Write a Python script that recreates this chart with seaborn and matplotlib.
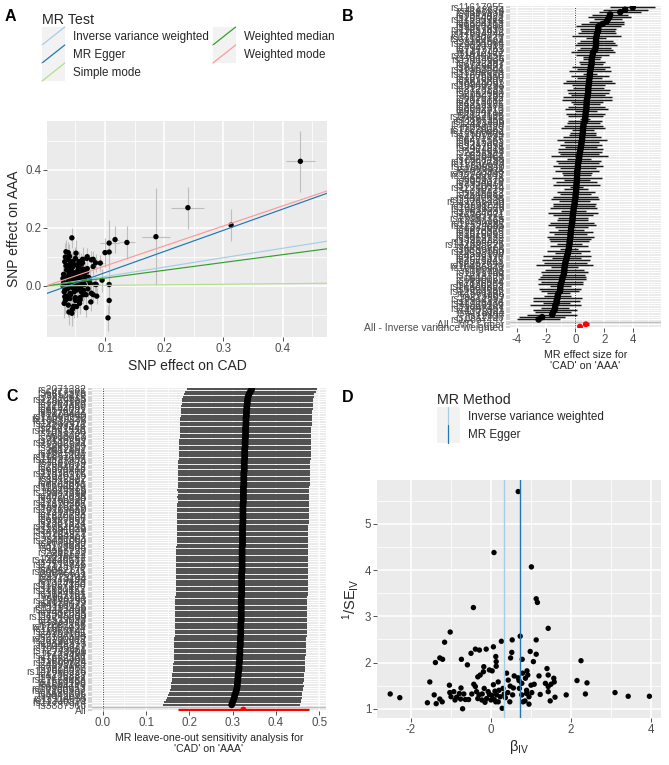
import numpy as np
import pandas as pd
import matplotlib
matplotlib.use("Agg")
import matplotlib.pyplot as plt
import seaborn as sns
from matplotlib.ticker import FixedLocator
from matplotlib.legend_handler import HandlerBase
from matplotlib.patches import Rectangle
from matplotlib.lines import Line2D

# ---------------- data ----------------
snp_ids = [
"rs3887966","rs12740374","rs11206510","rs17114036","rs4845625","rs6689306","rs67180937","rs16986953","rs6544713","rs1561198",
"rs7568458","rs17678683","rs6725887","rs1250229","rs142695226","rs9818870","rs7623687","rs4593108","rs12500824","rs1878406",
"rs7692387","rs11723436","rs273909","rs72743461","rs10455872","rs2048327","rs9349379","rs12202017","rs55730499","rs2107595",
"rs4252185","rs10953541","rs11556924","rs17087335","rs2891168","rs1333049","rs2519093","rs111245230","rs2505083","rs2487928",
"rs12413409","rs11191416","rs4918072","rs2128739","rs10840293","rs964184","rs7947761","rs3184504","rs11830157","rs2681472",
"rs11057830","rs1324183","rs9319428","rs4773144","rs9515203","rs2895811","rs56062135","rs8042271","rs7173743","rs17514846",
"rs4468572","rs12936587","rs216172","rs46522","rs2281727","rs663129","rs1122608","rs8108632","rs2075650","rs28451064",
"rs180803","rs17464857","rs6705971","rs12691049","rs2954029","rs11752643","rs2351524","rs9337951","rs6903956","rs1870634",
"rs7212798","rs2252641","rs10139550","rs3918226","rs1870365","rs12190287","rs3798220","rs4420638","rs2023938","rs10947789",
"rs974819","rs11226029","rs6602910","rs8723881","rs3825807","rs1412422","rs2820315","rs11838776","rs9970807","rs6504218",
"rs2954022","rs7697839","rs4148674","rs11617955","rs10857147","rs1231206","rs4801801","rs12897","rs3869109","rs2306374",
"rs10512597","rs7136259","rs6900057","rs13723","rs1051730","rs16893526","rs2571445","rs4299376","rs12537421","rs10818576",
"rs13097226","rs17609940","rs1878404","rs8176722","rs6544091","rs2252660","rs1264359","rs3869132","rs12524865","rs7310615",
"rs653178","rs6477565","rs2071382"]

# Wald ratio estimates (beta_IV) and precision (1/SE_IV) per SNP  (panels B and D)
iv_b = [
0.68, 0.075, 1.01, 1.13, 1.16, -0.44, 1.43, -1.02, 0.73, -1.16,
0.26, 0.53, 1.13, 0.06, -0.39, -0.29, -0.12, -0.50, 0.52, 0.98,
1.13, -1.28, -1.21, -1.39, -0.74, -0.59, 0.12, 0.13, 0.13, 0.49,
0.78, 1.06, 2.25, -0.18, -0.19, -0.27, -0.33, -0.04, 0.03, 0.39,
0.58, 0.68, 0.79, 0.90, 0.92, 0.86, 1.40, 1.43, 1.20, 1.57,
1.58, 2.15, 2.40, -1.53, 0.43, 0.18, 0.70, 0.77, 1.36, 1.50,
-0.43, -1.04, 0.06, 0.30, 0.48, 0.56, 0.71, 1.08, 1.00, 1.43,
-0.75, -0.39, -0.17, -0.07, 0.10, 0.20, 0.33, 0.42, -1.03, -0.93,
-0.79, -0.68, -0.48, -0.36, -0.30, -0.22, -0.04, 0.02, 0.14, 0.23,
0.36, 0.54, 0.77, 0.89, 0.95, 1.23, 1.43, 1.48, 1.60, 1.88,
2.36, 3.10, 3.43, 3.96, -2.52, -2.28, -1.42, -1.59, -1.37, -1.28,
-1.22, -1.00, -0.90, -0.86, -0.76, -0.71, -0.64, -0.56, -0.15, -0.11,
0.00, 0.18, 0.28, 0.85, 0.95, 0.89, 1.02, -0.33, -0.23, 0.08,
0.12, 0.47, 0.80]
iv_inv_se = [
5.70, 4.38, 4.07, 3.38, 3.30, 3.19, 2.74, 2.66, 2.57, 2.44,
2.46, 2.49, 2.49, 2.34, 2.29, 2.27, 2.29, 2.20, 2.22, 2.24,
2.18, 2.10, 2.07, 2.00, 2.07, 1.95, 2.13, 2.02, 1.92, 2.10,
2.07, 2.02, 2.04, 1.91, 1.80, 1.73, 1.69, 1.84, 1.82, 1.77,
1.71, 1.67, 1.77, 1.82, 1.73, 1.66, 1.87, 1.73, 1.71, 1.66,
1.58, 1.61, 1.56, 1.58, 1.62, 1.58, 1.61, 1.55, 1.55, 1.53,
1.53, 1.51, 1.52, 1.44, 1.49, 1.45, 1.44, 1.53, 1.51, 1.48,
1.45, 1.48, 1.44, 1.37, 1.38, 1.40, 1.32, 1.35, 1.35, 1.37,
1.33, 1.32, 1.32, 1.37, 1.30, 1.32, 1.31, 1.29, 1.30, 1.26,
1.24, 1.30, 1.30, 1.33, 1.26, 1.31, 1.37, 1.17, 1.25, 1.30,
1.32, 1.35, 1.27, 1.27, 1.32, 1.24, 1.30, 1.13, 1.11, 1.21,
1.15, 1.26, 1.19, 1.25, 1.21, 1.00, 1.20, 1.20, 1.14, 1.22,
1.19, 1.15, 1.01, 1.17, 1.10, 1.40, 1.35, 1.22, 1.19, 1.20,
1.15, 1.15, 1.15]

# Panel A: SNP effects on exposure (CAD) and outcome (AAA)
bx_out = [0.430, 0.240, 0.313, 0.186, 0.137, 0.117, 0.107, 0.107, 0.100, 0.095, 0.107, 0.107, 0.105]
by_out = [0.430, 0.270, 0.210, 0.170, 0.150, 0.160, 0.148, 0.117, 0.115, 0.020, 0.005, -0.050, -0.110]
bx_se_out = [0.025, 0.028, 0.004, 0.024, 0.013, 0.006, 0.016, 0.005, 0.004, 0.004, 0.004, 0.004, 0.004]
by_se_out = [0.105, 0.072, 0.055, 0.168, 0.058, 0.047, 0.080, 0.060, 0.050, 0.040, 0.048, 0.045, 0.045]
bx_clu = [
0.044,0.034,0.038,0.051,0.070,0.062,0.056,0.038,0.042,0.080,
0.092,0.084,0.052,0.046,0.060,0.069,0.077,0.032,0.046,0.063,
0.080,0.055,0.035,0.069,0.046,0.029,0.040,0.057,0.063,0.075,
0.083,0.029,0.037,0.052,0.060,0.077,0.032,0.041,0.058,0.068,
0.038,0.052,0.044,0.036,0.048,0.054,0.065,0.072,0.030,0.043,
0.049,0.059,0.066,0.034,0.039,0.047,0.053,0.061,0.071,0.031,
0.036,0.042,0.050,0.056,0.064,0.074,0.033,0.045,0.051,0.057,
0.067,0.085,0.080,0.086,0.030,0.035,0.040,0.048,0.055,0.062,
0.039,0.044,0.050,0.058,0.065,0.031,0.037,0.043,0.047,0.054,
0.060,0.070,0.076,0.033,0.041,0.046,0.053,0.059,0.072,0.035,
0.038,0.042,0.049,0.056,0.063,0.068,0.032,0.045,0.052,0.061,
0.040,0.047,0.036,0.043,0.050,0.057,0.034,0.039,0.044,0.048]
by_clu = [
0.166,0.118,0.115,0.113,0.101,0.092,0.084,0.090,0.084,0.092,
0.079,0.080,0.072,0.084,0.075,0.095,0.090,0.084,0.038,0.015,
0.067,0.061,0.055,0.049,0.030,0.026,0.021,0.026,0.058,0.009,
0.006,0.000,-0.008,-0.014,-0.020,-0.025,-0.037,-0.043,-0.048,-0.030,
-0.066,-0.071,-0.094,0.010,0.045,0.035,0.040,0.020,0.012,0.060,
0.005,-0.005,0.030,0.070,0.040,0.020,0.050,0.010,-0.010,-0.020,
0.030,-0.030,-0.040,0.000,-0.015,0.025,-0.050,0.065,0.015,-0.060,
0.050,0.005,-0.030,-0.035,0.040,-0.010,0.050,-0.020,0.035,0.080,
0.010,-0.005,0.095,-0.040,0.005,-0.060,0.025,0.045,-0.070,0.000,
0.020,0.060,-0.055,0.100,-0.025,0.012,-0.010,0.040,0.030,-0.045,
0.070,0.015,0.025,0.060,-0.030,-0.075,-0.015,-0.080,0.008,0.055,
0.102,0.045,-0.035,0.030,-0.050,0.018,0.000,-0.090,0.075,-0.005]
by_se_clu = [
0.035,0.040,0.038,0.045,0.030,0.042,0.036,0.048,0.033,0.028,
0.027,0.031,0.039,0.044,0.037,0.034,0.030,0.046,0.041,0.035,
0.029,0.043,0.050,0.033,0.038,0.047,0.045,0.036,0.032,0.031,
0.028,0.049,0.044,0.039,0.035,0.030,0.046,0.042,0.037,0.034,
0.040,0.036,0.045,0.048,0.041,0.038,0.034,0.032,0.052,0.043,
0.039,0.035,0.033,0.047,0.044,0.040,0.037,0.034,0.031,0.050,
0.046,0.042,0.039,0.036,0.033,0.030,0.048,0.041,0.038,0.035,
0.032,0.027,0.029,0.028,0.051,0.046,0.043,0.039,0.036,0.034,
0.044,0.041,0.038,0.035,0.032,0.050,0.045,0.042,0.040,0.037,
0.034,0.031,0.030,0.048,0.043,0.040,0.037,0.034,0.031,0.047,
0.045,0.042,0.039,0.036,0.033,0.032,0.049,0.041,0.038,0.035,
0.043,0.040,0.046,0.042,0.039,0.036,0.048,0.044,0.041,0.039]
bx_se_clu = [
0.004,0.003,0.003,0.005,0.006,0.005,0.004,0.003,0.004,0.006,
0.007,0.006,0.004,0.004,0.005,0.005,0.006,0.003,0.004,0.005,
0.006,0.004,0.003,0.005,0.004,0.002,0.003,0.004,0.005,0.006,
0.006,0.002,0.003,0.004,0.005,0.006,0.003,0.003,0.004,0.005,
0.003,0.004,0.003,0.003,0.004,0.004,0.005,0.005,0.002,0.003,
0.004,0.004,0.005,0.003,0.003,0.004,0.004,0.005,0.005,0.002,
0.003,0.003,0.004,0.004,0.005,0.005,0.003,0.003,0.004,0.004,
0.005,0.006,0.006,0.006,0.002,0.003,0.003,0.004,0.004,0.005,
0.003,0.003,0.004,0.004,0.005,0.002,0.003,0.003,0.004,0.004,
0.005,0.005,0.006,0.003,0.003,0.004,0.004,0.004,0.005,0.003,
0.003,0.003,0.004,0.004,0.005,0.005,0.002,0.003,0.004,0.005,
0.003,0.004,0.003,0.003,0.004,0.004,0.003,0.003,0.003,0.004]

# MR method estimates (panel A lines, panel D vertical lines)
methods = ["Inverse variance weighted", "MR Egger", "Simple mode", "Weighted median", "Weighted mode"]
method_slope = [0.325, 0.73, 0.02, 0.27, 0.69]
method_intercept = [0.0, -0.027, 0.0, 0.0, 0.0]
method_colors = ["#A6CEE3", "#1F78B4", "#B2DF8A", "#33A02C", "#FB9A99"]

# Forest plot summary rows (panel B)
all_labels = ["All - Inverse variance weighted", "All - MR Egger"]
all_b = [0.325, 0.73]
all_se = [0.077, 0.10]

# Leave-one-out (panel C), listed top row to bottom row
loo_b = [
0.344,0.341,0.338,0.336,0.335,0.334,0.334,0.333,0.333,0.332,
0.332,0.332,0.331,0.331,0.331,0.331,0.330,0.330,0.330,0.330,
0.330,0.329,0.329,0.329,0.329,0.328,0.328,0.328,0.328,0.328,
0.327,0.327,0.327,0.327,0.327,0.326,0.326,0.326,0.326,0.326,
0.326,0.325,0.325,0.325,0.325,0.325,0.325,0.325,0.324,0.324,
0.324,0.324,0.324,0.324,0.324,0.324,0.324,0.323,0.323,0.323,
0.323,0.323,0.323,0.323,0.323,0.323,0.322,0.322,0.322,0.322,
0.322,0.322,0.322,0.322,0.322,0.322,0.322,0.321,0.321,0.321,
0.321,0.321,0.321,0.321,0.321,0.321,0.321,0.320,0.320,0.320,
0.320,0.320,0.320,0.320,0.320,0.320,0.320,0.320,0.319,0.319,
0.319,0.319,0.319,0.319,0.318,0.318,0.318,0.318,0.317,0.317,
0.317,0.317,0.316,0.316,0.316,0.315,0.315,0.315,0.314,0.313,
0.313,0.312,0.312,0.311,0.311,0.310,0.309,0.307,0.305,0.304,
0.302,0.300,0.298]
loo_se = [
0.0767,0.0770,0.0772,0.0774,0.0773,0.0775,0.0774,0.0776,0.0775,0.0776,
0.0776,0.0777,0.0776,0.0777,0.0776,0.0777,0.0777,0.0776,0.0777,0.0777,
0.0777,0.0777,0.0776,0.0777,0.0777,0.0777,0.0778,0.0777,0.0777,0.0777,
0.0777,0.0778,0.0777,0.0777,0.0777,0.0778,0.0777,0.0777,0.0778,0.0777,
0.0777,0.0777,0.0778,0.0777,0.0777,0.0778,0.0777,0.0777,0.0777,0.0778,
0.0777,0.0777,0.0778,0.0777,0.0777,0.0777,0.0778,0.0777,0.0777,0.0778,
0.0777,0.0777,0.0777,0.0778,0.0777,0.0777,0.0778,0.0777,0.0777,0.0777,
0.0778,0.0777,0.0777,0.0778,0.0777,0.0777,0.0777,0.0778,0.0777,0.0777,
0.0778,0.0777,0.0777,0.0777,0.0778,0.0777,0.0777,0.0778,0.0777,0.0777,
0.0777,0.0778,0.0777,0.0777,0.0778,0.0777,0.0777,0.0777,0.0778,0.0777,
0.0777,0.0778,0.0777,0.0777,0.0777,0.0778,0.0777,0.0778,0.0777,0.0778,
0.0777,0.0778,0.0778,0.0777,0.0778,0.0778,0.0777,0.0778,0.0778,0.0778,
0.0778,0.0779,0.0779,0.0780,0.0781,0.0782,0.0784,0.0787,0.0790,0.0795,
0.0800,0.0806,0.0811]
loo_all_b = 0.325
loo_all_se = 0.077

# ---------------- style ----------------
sns.set_theme(style="darkgrid")
plt.rcParams["font.family"] = ["Liberation Sans", "DejaVu Sans"]
plt.rcParams["axes.unicode_minus"] = False
plt.rcParams["mathtext.fontset"] = "custom"
plt.rcParams["mathtext.rm"] = "Liberation Sans"
plt.rcParams["mathtext.it"] = "Liberation Sans:italic"
plt.rcParams["mathtext.bf"] = "Liberation Sans:bold"

W, H = 669, 765
fig = plt.figure(figsize=(W / 100, H / 100), dpi=100)
fig.patch.set_facecolor("white")


def rect(x0, y0, x1, y1):
    return [x0 / W, 1 - y1 / H, (x1 - x0) / W, (y1 - y0) / H]


BG = "#EBEBEB"
TICKC = "#4D4D4D"


def gg(ax, ysize=8.3):
    ax.set_facecolor(BG)
    for s in ax.spines.values():
        s.set_visible(False)
    ax.set_axisbelow(True)
    ax.grid(True, which="major", color="white", lw=1.1)
    ax.grid(True, which="minor", color="white", lw=0.55)
    ax.tick_params(axis="both", which="major", length=2.6, width=0.6, color="#333333",
                   labelcolor=TICKC, labelsize=8.3, pad=1.5,
                   bottom=True, left=True)
    ax.tick_params(axis="y", labelsize=ysize)
    ax.tick_params(which="minor", length=0, bottom=True, left=True)


class HandlerKey(HandlerBase):
    def __init__(self, kind):
        super().__init__()
        self.kind = kind

    def create_artists(self, legend, orig_handle, xdescent, ydescent, width, height, fontsize, trans):
        x0, y0 = -xdescent, -ydescent
        bg = Rectangle((x0, y0), width, height, facecolor="#F2F2F2", edgecolor="none", transform=trans)
        if self.kind == "diag":
            ln = Line2D([x0, x0 + width], [y0, y0 + height], color=orig_handle.get_color(), lw=0.9, transform=trans)
        else:
            ln = Line2D([x0 + width / 2] * 2, [y0, y0 + height], color=orig_handle.get_color(), lw=0.9, transform=trans)
        return [bg, ln]


# ---------------- Panel A ----------------
axA = fig.add_axes(rect(47, 121, 327, 337))
gg(axA)
dfA = pd.DataFrame({
    "bx": bx_out + bx_clu, "by": by_out + by_clu,
    "bx_se": bx_se_out + bx_se_clu, "by_se": by_se_out + by_se_clu,
})
axA.errorbar(dfA["bx"], dfA["by"], xerr=dfA["bx_se"], yerr=dfA["by_se"], fmt="none",
             ecolor="#BEBEBE", elinewidth=0.8, capsize=0, zorder=2)
sns.scatterplot(data=dfA, x="bx", y="by", color="black", s=15, edgecolor="none", ax=axA, zorder=3)
for m, s_, i_, c in zip(methods, method_slope, method_intercept, method_colors):
    axA.axline((0, i_), slope=s_, color=c, lw=0.85, zorder=4)
axA.set_xlim(0.002, 0.475)
axA.set_ylim(-0.176, 0.569)
axA.xaxis.set_major_locator(FixedLocator([0.1, 0.2, 0.3, 0.4]))
axA.xaxis.set_minor_locator(FixedLocator([0.05, 0.15, 0.25, 0.35, 0.45]))
axA.yaxis.set_major_locator(FixedLocator([0.0, 0.2, 0.4]))
axA.yaxis.set_minor_locator(FixedLocator([-0.1, 0.1, 0.3, 0.5]))
axA.set_xticklabels(["0.1", "0.2", "0.3", "0.4"])
axA.set_yticklabels(["0.0", "0.2", "0.4"])
axA.set_xlabel("SNP effect on CAD", fontsize=10, labelpad=3)
axA.set_ylabel("SNP effect on AAA", fontsize=10, labelpad=3)

handlesA = [Line2D([], [], color=c) for c in method_colors]
fig.legend(handlesA, methods, loc="upper left", bbox_to_anchor=(42 / W, 1 - 13 / H),
           ncol=2, frameon=False, fontsize=8.4, title="MR Test", title_fontsize=10.3,
           handlelength=1.95, handleheight=2.0, labelspacing=0, handletextpad=0.7,
           columnspacing=0.35, borderpad=0, borderaxespad=0, alignment="left",
           handler_map={Line2D: HandlerKey("diag")})

# ---------------- Panel B ----------------
axB = fig.add_axes(rect(510, 6, 661, 328))
gg(axB, ysize=7.4)
dfB = pd.DataFrame({"SNP": snp_ids, "b": iv_b, "se": 1.0 / np.array(iv_inv_se)})
dfB = dfB.sort_values("b").reset_index(drop=True)
dfB["pos"] = np.arange(len(dfB)) + 3
dfB["lo"] = dfB["b"] - 1.96 * dfB["se"]
dfB["hi"] = dfB["b"] + 1.96 * dfB["se"]
dfBall = pd.DataFrame({"SNP": all_labels, "b": all_b, "se": all_se, "pos": [0, 1]})
dfBall["lo"] = dfBall["b"] - 1.96 * dfBall["se"]
dfBall["hi"] = dfBall["b"] + 1.96 * dfBall["se"]
axB.axvline(0, ls=(0, (1, 1.8)), color="black", lw=0.6, zorder=1.5)
axB.axhline(2, color="#BEBEBE", lw=0.9, zorder=1.6)
axB.hlines(dfB["pos"], dfB["lo"], dfB["hi"], color="#1a1a1a", lw=1.05, zorder=2)
sns.scatterplot(data=dfB, x="b", y="pos", color="black", s=22, edgecolor="none", ax=axB, zorder=3)
axB.hlines(dfBall["pos"], dfBall["lo"], dfBall["hi"], color="red", lw=2.4, zorder=2)
sns.scatterplot(data=dfBall, x="b", y="pos", color="red", s=18, edgecolor="none", ax=axB, zorder=3)
nB = len(dfB) + 3
axB.set_ylim(-0.6, nB - 1 + 0.6)
axB.set_xlim(-4.49, 5.9)
axB.xaxis.set_major_locator(FixedLocator([-4, -2, 0, 2, 4]))
axB.xaxis.set_minor_locator(FixedLocator([-3, -1, 1, 3, 5]))
axB.set_xticklabels(["-4", "-2", "0", "2", "4"])
axB.set_yticks(list(range(nB)))
axB.set_yticklabels(all_labels + [""] + list(dfB["SNP"]))
axB.grid(True, axis="y", which="major", color="white", lw=0.7)
axB.tick_params(axis="y", length=2.6, width=0.3)
axB.set_xlabel("MR effect size for\n'CAD' on 'AAA'", fontsize=7.7, labelpad=3, linespacing=1.1)
axB.set_ylabel("")

# ---------------- Panel C ----------------
axC = fig.add_axes(rect(92, 388, 326, 711))
gg(axC, ysize=7.4)
nL = len(loo_b)
loo_ids = snp_ids[::-1]
dfC = pd.DataFrame({"SNP": loo_ids[:nL], "b": loo_b, "se": loo_se})
dfC["pos"] = nL + 1 - np.arange(nL)
dfC["lo"] = dfC["b"] - 1.96 * dfC["se"]
dfC["hi"] = dfC["b"] + 1.96 * dfC["se"]
axC.axvline(0, ls=(0, (1, 1.8)), color="black", lw=0.6, zorder=1.5)
axC.axhline(1, color="#BEBEBE", lw=0.9, zorder=1.6)
axC.hlines(dfC["pos"], dfC["lo"], dfC["hi"], color="#3a3a3a", lw=1.25, zorder=2)
sns.scatterplot(data=dfC, x="b", y="pos", color="black", s=24, edgecolor="none", ax=axC, zorder=3)
axC.hlines([0], [loo_all_b - 1.96 * loo_all_se], [loo_all_b + 1.96 * loo_all_se], color="red", lw=2.4, zorder=2)
sns.scatterplot(x=[loo_all_b], y=[0], color="red", s=18, edgecolor="none", ax=axC, zorder=3)
axC.set_ylim(-0.6, nL + 1 + 0.6)
axC.set_xlim(-0.025, 0.516)
axC.xaxis.set_major_locator(FixedLocator([0.0, 0.1, 0.2, 0.3, 0.4, 0.5]))
axC.xaxis.set_minor_locator(FixedLocator([0.05, 0.15, 0.25, 0.35, 0.45]))
axC.set_xticklabels(["0.0", "0.1", "0.2", "0.3", "0.4", "0.5"])
yC = [0, 1] + list(dfC["pos"][::-1])
axC.set_yticks(yC)
axC.set_yticklabels(["All", ""] + list(dfC["SNP"][::-1]))
axC.grid(True, axis="y", which="major", color="white", lw=0.7)
axC.tick_params(axis="y", length=2.6, width=0.3)
axC.set_xlabel("MR leave-one-out sensitivity analysis for\n'CAD' on 'AAA'", fontsize=7.6, labelpad=3, linespacing=1.1)
axC.set_ylabel("")

# ---------------- Panel D ----------------
axD = fig.add_axes(rect(377, 480, 661, 718))
gg(axD)
dfD = pd.DataFrame({"b": iv_b, "inv_se": iv_inv_se})
sns.scatterplot(data=dfD, x="b", y="inv_se", color="black", s=15, edgecolor="none", ax=axD, zorder=3)
axD.axvline(method_slope[0], color=method_colors[0], lw=1.0, zorder=4)
axD.axvline(method_slope[1], color=method_colors[1], lw=1.0, zorder=4)
axD.set_xlim(-2.85, 4.25)
axD.set_ylim(0.8, 5.95)
axD.xaxis.set_major_locator(FixedLocator([-2, 0, 2, 4]))
axD.xaxis.set_minor_locator(FixedLocator([-1, 1, 3]))
axD.yaxis.set_major_locator(FixedLocator([1, 2, 3, 4, 5]))
axD.yaxis.set_minor_locator(FixedLocator([1.5, 2.5, 3.5, 4.5, 5.5]))
axD.set_xticklabels(["-2", "0", "2", "4"])
axD.set_yticklabels(["1", "2", "3", "4", "5"])
axD.set_xlabel(r"β$_{\mathrm{IV}}$", fontsize=10.5, labelpad=2)
axD.set_ylabel(r"$^{1}/\mathrm{SE}_{\mathrm{IV}}$", fontsize=10.5, labelpad=3)

handlesD = [Line2D([], [], color=c) for c in method_colors[:2]]
fig.legend(handlesD, methods[:2], loc="upper left", bbox_to_anchor=(437 / W, 1 - 393 / H),
           ncol=1, frameon=False, fontsize=8.4, title="MR Method", title_fontsize=10.3,
           handlelength=1.95, handleheight=2.0, labelspacing=0, handletextpad=0.7,
           borderpad=0, borderaxespad=0, alignment="left",
           handler_map={Line2D: HandlerKey("vline")})

# ---------------- panel letters ----------------
for lab, x, y in [("A", 5, 9), ("B", 342, 9), ("C", 6, 389), ("D", 342, 390)]:
    fig.text(x / W, 1 - y / H, lab, fontsize=11.5, fontweight="bold", va="top", ha="left", color="black")

fig.savefig("out.png", dpi=100)
